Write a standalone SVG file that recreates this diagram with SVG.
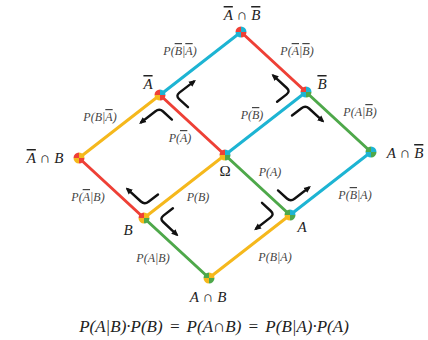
<svg xmlns="http://www.w3.org/2000/svg" xmlns:xlink="http://www.w3.org/1999/xlink" width="428" height="340" viewBox="0 0 428 340">
<style>
.e{stroke-width:3;fill:none;stroke-linecap:round}
.cy{stroke:#1db4d3}.rd{stroke:#ee4036}.yl{stroke:#f5b81c}.gn{stroke:#4ea84a}
.ar{stroke:#111;stroke-width:2.4;fill:none;stroke-linecap:round;stroke-linejoin:round}
text{font-family:"Liberation Serif","Times New Roman",serif;text-anchor:middle;dominant-baseline:central}
.nl{font-size:15px;fill:#222;font-style:italic}
.pl{font-size:12px;fill:#444;font-style:italic}
.up{font-style:normal}
.ov{text-decoration:overline}
.fm{font-size:17px;fill:#222;font-style:italic;word-spacing:2px}
</style>
<defs>
<marker id="ah" viewBox="0 0 10 10" refX="6" refY="5" markerWidth="7" markerHeight="7" markerUnits="userSpaceOnUse" orient="auto">
<path d="M0,0.5 L10,5 L0,9.5 z" fill="#111"/>
</marker>
<path id="qUL" d="M0,0 L-5.5,0 A5.5,5.5 0 0 1 0,-5.5 Z"/>
<path id="qUR" d="M0,0 L0,-5.5 A5.5,5.5 0 0 1 5.5,0 Z"/>
<path id="qLR" d="M0,0 L5.5,0 A5.5,5.5 0 0 1 0,5.5 Z"/>
<path id="qLL" d="M0,0 L0,5.5 A5.5,5.5 0 0 1 -5.5,0 Z"/>
</defs>
<g id="connectors">
<line class="e cy" x1="241" y1="32" x2="160" y2="95"/>
<line class="e rd" x1="241" y1="32" x2="306" y2="92"/>
<line class="e rd" x1="160" y1="95" x2="225" y2="155"/>
<line class="e yl" x1="160" y1="95" x2="79" y2="158"/>
<line class="e cy" x1="306" y1="92" x2="225" y2="155"/>
<line class="e gn" x1="306" y1="92" x2="371" y2="152"/>
<line class="e rd" x1="79" y1="158" x2="144" y2="218"/>
<line class="e yl" x1="225" y1="155" x2="144" y2="218"/>
<line class="e gn" x1="225" y1="155" x2="290" y2="215"/>
<line class="e cy" x1="371" y1="152" x2="290" y2="215"/>
<line class="e gn" x1="144" y1="218" x2="209" y2="278"/>
<line class="e yl" x1="290" y1="215" x2="209" y2="278"/>
</g>
<g id="arrows">
<path class="ar" marker-end="url(#ah)" d="M188,107.2 L179.2,99.1 Q175.5,95.7 179.4,92.6 L193.7,81.6"/>
<path class="ar" marker-end="url(#ah)" d="M171.9,119.6 L163.1,111.5 Q159.45,108.1 155.5,111.2 L141.3,122.2"/>
<path class="ar" marker-end="url(#ah)" d="M277.1,101.8 L286.6,94.4 Q290.5,91.35 286.8,88 L273.6,75.8"/>
<path class="ar" marker-end="url(#ah)" d="M292,115.5 L301.5,108.2 Q305.45,105.1 309.1,108.5 L322.3,120.7"/>
<path class="ar" marker-end="url(#ah)" d="M158,194.5 L148.5,201.8 Q144.55,204.9 140.9,201.5 L127.7,189.3"/>
<path class="ar" marker-end="url(#ah)" d="M172.9,208.2 L163.4,215.6 Q159.5,218.65 163.2,222 L176.4,234.3"/>
<path class="ar" marker-end="url(#ah)" d="M278,190.4 L286.9,198.5 Q290.55,201.9 294.5,198.8 L308.7,187.8"/>
<path class="ar" marker-end="url(#ah)" d="M262,202.8 L270.8,211 Q274.5,214.35 270.6,217.4 L256.3,228.5"/>
</g>
<g id="n-top" transform="translate(241,32)">
<use xlink:href="#qUL" fill="#ee4036"/><use xlink:href="#qUR" fill="#1db4d3"/><use xlink:href="#qLR" fill="#ee4036"/><use xlink:href="#qLL" fill="#1db4d3"/>
</g>
<g id="n-notA" transform="translate(160,95)">
<use xlink:href="#qUL" fill="#ee4036"/><use xlink:href="#qUR" fill="#1db4d3"/><use xlink:href="#qLR" fill="#ee4036"/><use xlink:href="#qLL" fill="#f5b81c"/>
</g>
<g id="n-notB" transform="translate(306,92)">
<use xlink:href="#qUL" fill="#ee4036"/><use xlink:href="#qUR" fill="#1db4d3"/><use xlink:href="#qLR" fill="#4ea84a"/><use xlink:href="#qLL" fill="#1db4d3"/>
</g>
<g id="n-left" transform="translate(79,158)">
<use xlink:href="#qUL" fill="#ee4036"/><use xlink:href="#qUR" fill="#f5b81c"/><use xlink:href="#qLR" fill="#ee4036"/><use xlink:href="#qLL" fill="#f5b81c"/>
</g>
<g id="n-omega" transform="translate(225,155)">
<use xlink:href="#qUL" fill="#ee4036"/><use xlink:href="#qUR" fill="#1db4d3"/><use xlink:href="#qLR" fill="#4ea84a"/><use xlink:href="#qLL" fill="#f5b81c"/>
</g>
<g id="n-right" transform="translate(371,152)">
<use xlink:href="#qUL" fill="#4ea84a"/><use xlink:href="#qUR" fill="#1db4d3"/><use xlink:href="#qLR" fill="#4ea84a"/><use xlink:href="#qLL" fill="#1db4d3"/>
</g>
<g id="n-B" transform="translate(144,218)">
<use xlink:href="#qUL" fill="#ee4036"/><use xlink:href="#qUR" fill="#f5b81c"/><use xlink:href="#qLR" fill="#4ea84a"/><use xlink:href="#qLL" fill="#f5b81c"/>
</g>
<g id="n-A" transform="translate(290,215)">
<use xlink:href="#qUL" fill="#4ea84a"/><use xlink:href="#qUR" fill="#1db4d3"/><use xlink:href="#qLR" fill="#4ea84a"/><use xlink:href="#qLL" fill="#f5b81c"/>
</g>
<g id="n-bot" transform="translate(209,278)">
<use xlink:href="#qUL" fill="#4ea84a"/><use xlink:href="#qUR" fill="#f5b81c"/><use xlink:href="#qLR" fill="#4ea84a"/><use xlink:href="#qLL" fill="#f5b81c"/>
</g>
<g id="labels">
<text class="nl" x="242" y="15"><tspan class="ov">A</tspan><tspan class="up"> ∩ </tspan><tspan class="ov">B</tspan></text>
<text class="nl" x="148" y="84"><tspan class="ov">A</tspan></text>
<text class="nl" x="322" y="84"><tspan class="ov">B</tspan></text>
<text class="nl" x="45" y="158"><tspan class="ov">A</tspan><tspan class="up"> ∩ </tspan>B</text>
<text class="nl" x="405" y="153">A<tspan class="up"> ∩ </tspan><tspan class="ov">B</tspan></text>
<text class="nl up" x="225" y="171">Ω</text>
<text class="nl" x="128" y="230">B</text>
<text class="nl" x="302" y="227">A</text>
<text class="nl" x="208" y="297">A<tspan class="up"> ∩ </tspan>B</text>
<text class="pl" x="180" y="51">P(<tspan class="ov">B</tspan>|<tspan class="ov">A</tspan>)</text>
<text class="pl" x="297" y="51">P(<tspan class="ov">A</tspan>|<tspan class="ov">B</tspan>)</text>
<text class="pl" x="100" y="117">P(B|<tspan class="ov">A</tspan>)</text>
<text class="pl" x="180" y="138">P(<tspan class="ov">A</tspan>)</text>
<text class="pl" x="252" y="115">P(<tspan class="ov">B</tspan>)</text>
<text class="pl" x="360" y="112">P(A|<tspan class="ov">B</tspan>)</text>
<text class="pl" x="270" y="172">P(A)</text>
<text class="pl" x="355" y="195">P(<tspan class="ov">B</tspan>|A)</text>
<text class="pl" x="88" y="197">P(<tspan class="ov">A</tspan>|B)</text>
<text class="pl" x="198" y="197">P(B)</text>
<text class="pl" x="153" y="258">P(A|B)</text>
<text class="pl" x="275" y="257">P(B|A)</text>
<text class="fm" x="214" y="326">P(A|B)·P(B) = P(A∩B) = P(B|A)·P(A)</text>
</g>
</svg>
